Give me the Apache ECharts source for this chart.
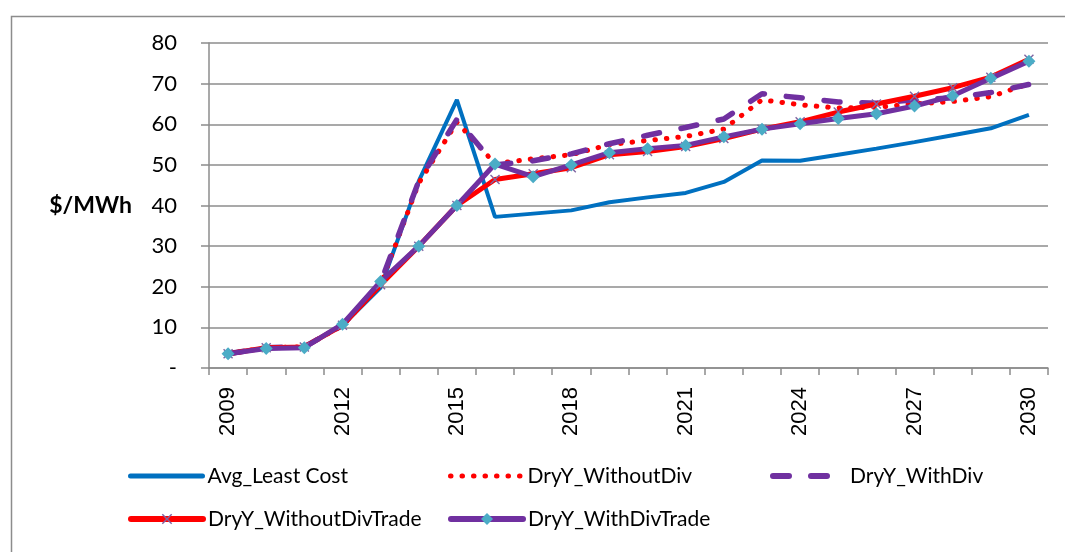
<!DOCTYPE html>
<html lang="en">
<head>
    <meta charset="UTF-8">
    <title>Dry year prices</title>
    <script src="https://cdn.jsdelivr.net/npm/echarts@6/dist/echarts.min.js"></script>
    <style>
        html, body { margin: 0; padding: 0; background: #fff; }
    </style>
</head>
<body>
<div id="main" style="width: 1065px;height:552px;"></div>

<script type="text/javascript">
    // years on the x axis
    var years = ['2009', '2010', '2011', '2012', '2013', '2014', '2015', '2016', '2017', '2018', '2019',
        '2020', '2021', '2022', '2023', '2024', '2025', '2026', '2027', '2028', '2029', '2030'];

    // $/MWh
    var avgLeastCost = [3.5, 5.0, 5.2, 10.5, 19.8, 46.0, 66.0, 37.2, 38.0, 38.8, 40.8, 42.0, 43.1, 45.8,
        51.1, 51.0, 52.5, 54.0, 55.6, 57.3, 59.0, 62.3];
    var dryWithoutDiv = [3.5, 5.0, 5.2, 10.5, 20.5, 45.5, 60.5, 50.3, 51.5, 52.5, 55.0, 56.0, 57.0, 58.8,
        66.0, 64.8, 64.0, 64.2, 65.0, 65.6, 66.8, 70.0];
    var dryWithDiv = [3.5, 5.0, 5.2, 10.5, 21.0, 46.0, 61.2, 50.0, 51.0, 52.7, 55.2, 57.3, 59.2, 61.3,
        67.5, 66.5, 65.5, 65.2, 66.0, 66.5, 67.8, 69.8];
    var dryWithoutDivTrade = [3.5, 5.0, 5.2, 10.5, 20.5, 30.0, 40.0, 46.4, 47.8, 49.3, 52.5, 53.3, 54.5, 56.5,
        58.8, 60.6, 63.0, 65.0, 66.9, 69.0, 71.6, 76.0];
    var dryWithDivTrade = [3.5, 4.8, 5.0, 10.8, 21.3, 30.0, 40.0, 50.2, 47.1, 50.0, 53.0, 54.0, 54.8, 56.9,
        58.8, 60.1, 61.4, 62.6, 64.5, 67.0, 71.3, 75.5];

    var yTicks = [0, 10, 20, 30, 40, 50, 60, 70, 80];

    var crossPath = 'path://M0,1L1,0L5,4L9,0L10,1L6,5L10,9L9,10L5,6L1,10L0,9L4,5Z';
    var legendFont = {fontFamily: 'Lato', fontSize: 21, color: '#000', lineHeight: 22};

    // one legend box per entry, so each sits where Excel put it
    function legendAt(name, left, top, h, hideSymbol, lineW) {
        var l = {
            data: [name], left: left, top: top, padding: 0,
            itemWidth: 72, itemHeight: h, textStyle: legendFont,
            lineStyle: {width: lineW, cap: 'round'},
            selectedMode: false
        };
        if (hideSymbol) l.itemStyle = {opacity: 0};
        return l;
    }

    var myChart = echarts.init(document.getElementById('main'));
    var option = {
        animation: false,
        backgroundColor: '#fff',
        graphic: [{
            type: 'rect', left: 9, top: 14, silent: true,
            shape: {width: 1200, height: 700},
            style: {fill: 'none', stroke: '#8c8c8c', lineWidth: 1.5}
        }],
        grid: {left: 209, right: 17, top: 43, bottom: 184},
        legend: [
            legendAt('Avg_Least Cost', 128, 465, 14, true, 5),
            legendAt('DryY_WithoutDiv', 448, 465, 14, true, 5),
            legendAt('DryY_WithDiv', 770, 465, 14, true, 6),
            legendAt('DryY_WithoutDivTrade', 128, 508, 13, false, 6),
            legendAt('DryY_WithDivTrade', 448, 508, 15, false, 6)
        ],
        xAxis: {
            type: 'category',
            data: years,
            boundaryGap: true,
            axisLine: {lineStyle: {color: '#8c8c8c', width: 1.5}},
            axisTick: {show: true, interval: 0, length: 7, lineStyle: {color: '#8c8c8c', width: 1.5}},
            axisLabel: {
                interval: 2, rotate: 90, margin: 19,
                fontFamily: 'Liberation Sans', fontSize: 22, color: '#000'
            },
            splitLine: {show: false}
        },
        yAxis: {
            type: 'value',
            min: yTicks[0], max: yTicks[yTicks.length - 1], interval: 10,
            name: '$/MWh',
            nameLocation: 'middle',
            nameRotate: 0,
            nameGap: 77,
            nameTextStyle: {fontFamily: 'Lato', fontWeight: 'bold', fontSize: 23, color: '#000'},
            axisLine: {show: true, lineStyle: {color: '#8c8c8c', width: 1.5}},
            axisTick: {show: true, length: 8, lineStyle: {color: '#8c8c8c', width: 1.5}},
            axisLabel: {
                margin: 32, fontFamily: 'Lato', fontSize: 22, color: '#000',
                formatter: function (v) { return v === 0 ? '-' : v; }
            },
            splitLine: {lineStyle: {color: '#8c8c8c', width: 1.5}}
        },
        series: [
            {
                name: 'Avg_Least Cost', type: 'line', data: avgLeastCost,
                symbol: 'none', color: '#0070C0',
                lineStyle: {color: '#0070C0', width: 4}
            },
            {
                name: 'DryY_WithoutDiv', type: 'line', data: dryWithoutDiv,
                symbol: 'none', color: '#FF0000',
                lineStyle: {color: '#FF0000', width: 5, type: [0.5, 11], cap: 'round'}
            },
            {
                name: 'DryY_WithDiv', type: 'line', data: dryWithDiv,
                symbol: 'none', color: '#7030A0',
                lineStyle: {color: '#7030A0', width: 5.5, type: [16, 22], cap: 'round'}
            },
            {
                name: 'DryY_WithoutDivTrade', type: 'line', data: dryWithoutDivTrade,
                symbol: crossPath, symbolSize: 10, color: '#FF0000',
                itemStyle: {color: '#8064A2'},
                lineStyle: {color: '#FF0000', width: 5}
            },
            {
                name: 'DryY_WithDivTrade', type: 'line', data: dryWithDivTrade,
                symbol: 'diamond', symbolSize: 13, color: '#7030A0',
                itemStyle: {color: '#4BACC6'},
                lineStyle: {color: '#7030A0', width: 5}
            }
        ]
    };

    myChart.setOption(option);
</script>
</body>
</html>
